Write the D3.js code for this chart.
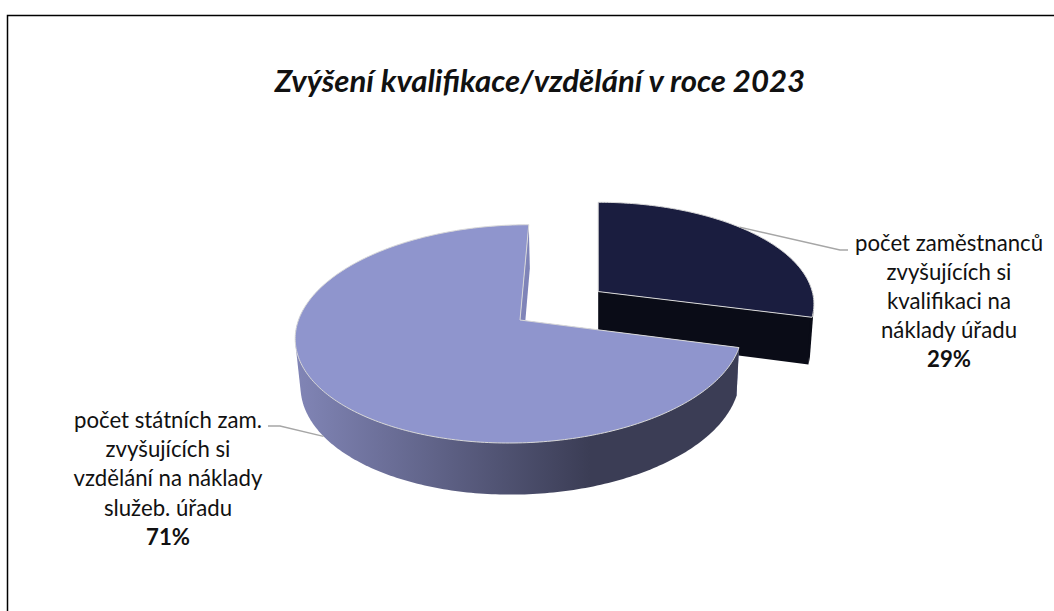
<!DOCTYPE html>
<html>
<head>
<meta charset="utf-8">
<script src="https://cdn.jsdelivr.net/npm/d3@7"></script>
<style>
  html, body { margin: 0; padding: 0; background: #fff; }
  text { font-family: Lato, "Open Sans", sans-serif; fill: #111; }
</style>
</head>
<body>
<div id="chart"></div>
<script>
const chartTitle = "Zvýšení kvalifikace/vzdělání v roce 2023";
const categories = ["počet zaměstnanců zvyšujících si kvalifikaci na náklady úřadu",
                    "počet státních zam. zvyšujících si vzdělání na náklady služeb. úřadu"];
const values = [29, 71];
const percentLabels = ["29%", "71%"];
const labelLines = [
  ["počet zaměstnanců", "zvyšujících si", "kvalifikaci na", "náklady úřadu"],
  ["počet státních zam.", "zvyšujících si", "vzdělání na náklady", "služeb. úřadu"]
];
const topColors = ["#1a1d3f", "#8f95cd"];
const cutColors = ["#0a0c17", "#7f84b8"];

const width = 1054, height = 611;

const svg = d3.select("#chart").append("svg")
  .attr("width", width)
  .attr("height", height)
  .style("display", "block");

// perspective camera for the 3d pie
const R = 221.5, depthZ = 55, explode = 99;
const pitch = 29 * Math.PI / 180, camDist = 1525;
const originX = 598, originY = 320, pieX = -78, pieY = 0;

function project(x, y, z) {
  let depth = y * Math.cos(pitch) - z * Math.sin(pitch);
  let up = y * Math.sin(pitch) + z * Math.cos(pitch);
  let f = camDist / (camDist + depth);
  return [originX + f * x, originY - f * up];
}

const arcs = d3.pie().sort(null)(values);

// offset of a slice from the pie centre, along its middle angle
function sliceCentre(d, i) {
  let e = i === 0 ? explode : 0;
  let mid = (d.startAngle + d.endAngle) / 2;
  return [pieX + e * Math.sin(mid), pieY + e * Math.cos(mid)];
}

function rimPoint(c, angle, z) {
  return project(c[0] + R * Math.sin(angle), c[1] + R * Math.cos(angle), z);
}

function rimPoints(c, a0, a1, z) {
  let n = Math.ceil(Math.abs(a1 - a0) * 60);
  return d3.range(n + 1).map(k => rimPoint(c, a0 + (a1 - a0) * k / n, z));
}

const line = d3.line();

const defs = svg.append("defs");
const wallGrad = defs.append("linearGradient")
  .attr("id", "wallGrad")
  .attr("gradientUnits", "userSpaceOnUse")
  .attr("x1", 296).attr("x2", 590).attr("y1", 0).attr("y2", 0);
wallGrad.append("stop").attr("offset", 0).attr("stop-color", "#8185b6");
wallGrad.append("stop").attr("offset", 1).attr("stop-color", "#3b3d55");

// frame, open on the right and at the bottom
svg.append("path")
  .attr("d", "M7.5,612V15.5H1054")
  .attr("fill", "none")
  .attr("stroke", "#000")
  .attr("stroke-width", 1.5);

svg.append("text")
  .attr("x", 540)
  .attr("y", 92)
  .attr("text-anchor", "middle")
  .attr("font-size", 31.2)
  .attr("font-weight", 700)
  .attr("font-style", "italic")
  .text(chartTitle);

function drawSlice(d, i) {
  let c = sliceCentre(d, i);
  let g = svg.append("g").attr("class", "slice");
  let apexTop = project(c[0], c[1], 0), apexBottom = project(c[0], c[1], -depthZ);

  // cut faces
  [d.startAngle, d.endAngle].forEach(a => {
    g.append("path")
      .attr("d", line([apexTop, rimPoint(c, a, 0), rimPoint(c, a, -depthZ), apexBottom]) + "Z")
      .attr("fill", cutColors[i]);
  });

  // outer wall, hull so the left silhouette stays straight (top face hides the rest)
  let wallStart = Math.max(d.startAngle, Math.PI / 2), wallEnd = Math.min(d.endAngle, Math.PI * 1.5 + 0.1);
  if (wallEnd > wallStart) {
    let pts = rimPoints(c, wallStart, wallEnd, 0).concat(rimPoints(c, wallStart, wallEnd, -depthZ));
    g.append("path")
      .attr("d", line(d3.polygonHull(pts)) + "Z")
      .attr("fill", i === 0 ? cutColors[0] : "url(#wallGrad)");
  }

  // top face
  let topPts = [apexTop].concat(rimPoints(c, d.startAngle, d.endAngle, 0));
  g.append("path")
    .attr("d", line(topPts) + "Z")
    .attr("fill", topColors[i])
    .attr("stroke", "#d9d9d9")
    .attr("stroke-width", 1);
}

arcs.forEach((d, i) => drawSlice(d, i));

// leader lines, drawn from the rim to the label
const leaders = [
  { angle: 0.8, z: 0, points: [[840, 250], [848, 250]] },
  { angle: 4.1, z: -depthZ, points: [[280, 426], [268, 426]] }
];
arcs.forEach((d, i) => {
  let c = sliceCentre(d, i);
  let start = rimPoint(c, leaders[i].angle, leaders[i].z);
  svg.append("path")
    .attr("d", line([start].concat(leaders[i].points)))
    .attr("fill", "none")
    .attr("stroke", "#a6a6a6")
    .attr("stroke-width", 1.3);
});

// data labels
const labelPos = [{ x: 949, y: 251, step: 29 }, { x: 168, y: 428, step: 29.2 }];
labelLines.forEach((lines, i) => {
  let t = svg.append("text")
    .attr("text-anchor", "middle")
    .attr("font-size", 22.2);
  lines.forEach((s, k) => {
    t.append("tspan")
      .attr("x", labelPos[i].x)
      .attr("y", labelPos[i].y + k * labelPos[i].step)
      .text(s);
  });
  t.append("tspan")
    .attr("x", labelPos[i].x)
    .attr("y", labelPos[i].y + lines.length * labelPos[i].step)
    .attr("font-weight", 700)
    .text(percentLabels[i]);
});
</script>
</body>
</html>
